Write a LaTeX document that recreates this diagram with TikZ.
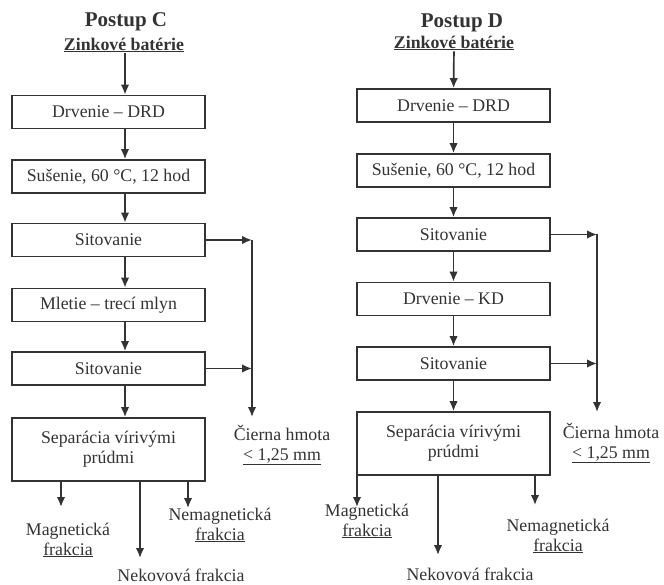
\documentclass[tikz,border=0pt]{standalone}
\usepackage{fontspec}
\setmainfont{Liberation Serif}
\usetikzlibrary{arrows.meta}

\begin{document}
\begin{tikzpicture}[x=1pt,y=-1pt,
    every node/.style={text=black!80, font=\fontsize{17.8}{20}\selectfont},
    stepbox/.style={draw=black!80, line width=1.7pt, minimum width=193pt, minimum height=33pt, inner sep=0pt, align=center},
    flow/.style={draw=black!80, line width=1.7pt, -{Latex[length=10pt,width=8.5pt]}},
    title/.style={font=\fontsize{21}{24}\selectfont\bfseries},
    source/.style={font=\fontsize{17.8}{20}\selectfont\bfseries, inner sep=1pt},
    product/.style={align=center, inner sep=0pt}]
    \useasboundingbox (0,0) rectangle (664,585);

    % Postup C
    \node[title] (titleC) at (126,22) {Postup C};
    \node[source] (zincC) at (124,45) {\underline{Zinkové batérie}};
    \node[stepbox] (crushC) at (108.5,112) {Drvenie -- DRD};
    \node[stepbox] (dryC) at (108.5,176.5) {Sušenie, 60 °C, 12 hod};
    \node[stepbox] (sieveAC) at (108.5,240) {Sitovanie};
    \node[stepbox] (millC) at (108.5,305) {Mletie -- trecí mlyn};
    \node[stepbox] (sieveBC) at (108.5,368.5) {Sitovanie};
    \node[stepbox, minimum height=63pt] (sepC) at (108.5,449.5) {Separácia vírivými\\prúdmi};
    \node[product] (blackC) at (282,445) {Čierna hmota\\\underline{< 1,25 mm}};
    \node[product] (magC) at (68,540) {Magnetická\\\underline{frakcia}};
    \node[product] (nonmetC) at (181,575) {Nekovová frakcia};
    \node[product] (nonmagC) at (220,525) {Nemagnetická\\\underline{frakcia}};

    \coordinate (axisC) at (125,0);
    \coordinate (sideC) at (252,0);
    \coordinate (tipBlackC) at (252,417);
    \coordinate (tipMagC) at (61,507);
    \coordinate (tipNonmetC) at (140,558);
    \coordinate (tipNonmagC) at (188,508);

    \draw[flow] (zincC.south -| axisC) -- (crushC.north -| axisC);
    \draw[flow] (crushC.south -| axisC) -- (dryC.north -| axisC);
    \draw[flow] (dryC.south -| axisC) -- (sieveAC.north -| axisC);
    \draw[flow] (sieveAC.south -| axisC) -- (millC.north -| axisC);
    \draw[flow] (millC.south -| axisC) -- (sieveBC.north -| axisC);
    \draw[flow] (sieveBC.south -| axisC) -- (sepC.north -| axisC);
    \draw[flow] (sieveAC.east) -- (sieveAC.east -| sideC);
    \draw[flow] (sieveBC.east) -- (sieveBC.east -| sideC);
    \draw[flow] (sieveAC.east -| sideC) -- (tipBlackC);
    \draw[flow] (sepC.south -| tipMagC) -- (tipMagC);
    \draw[flow] (sepC.south -| tipNonmetC) -- (tipNonmetC);
    \draw[flow] (sepC.south -| tipNonmagC) -- (tipNonmagC);

    % Postup D
    \node[title] (titleD) at (462,23) {Postup D};
    \node[source] (zincD) at (454,43) {\underline{Zinkové batérie}};
    \node[stepbox] (crushD) at (453.5,105.5) {Drvenie -- DRD};
    \node[stepbox] (dryD) at (453.5,170.5) {Sušenie, 60 °C, 12 hod};
    \node[stepbox] (sieveAD) at (453.5,234.5) {Sitovanie};
    \node[stepbox] (crushKD) at (453.5,299) {Drvenie -- KD};
    \node[stepbox] (sieveBD) at (453.5,363.5) {Sitovanie};
    \node[stepbox, minimum height=63pt] (sepD) at (453.5,443.5) {Separácia vírivými\\prúdmi};
    \node[product] (blackD) at (611,443) {Čierna hmota\\\underline{< 1,25 mm}};
    \node[product] (magD) at (367,521) {Magnetická\\\underline{frakcia}};
    \node[product] (nonmetD) at (470,574) {Nekovová frakcia};
    \node[product] (nonmagD) at (558,536) {Nemagnetická\\\underline{frakcia}};

    \coordinate (sideD) at (597,0);
    \coordinate (tipBlackD) at (597,412);
    \coordinate (tipMagD) at (357,507);
    \coordinate (tipNonmetD) at (438,555);
    \coordinate (tipNonmagD) at (535,505);

    \draw[flow] (zincD) -- (crushD);
    \draw[flow] (crushD) -- (dryD);
    \draw[flow] (dryD) -- (sieveAD);
    \draw[flow] (sieveAD) -- (crushKD);
    \draw[flow] (crushKD) -- (sieveBD);
    \draw[flow] (sieveBD) -- (sepD);
    \draw[flow] (sieveAD.east) -- (sieveAD.east -| sideD);
    \draw[flow] (sieveBD.east) -- (sieveBD.east -| sideD);
    \draw[flow] (sieveAD.east -| sideD) -- (tipBlackD);
    \draw[flow] (sepD.south -| tipMagD) -- (tipMagD);
    \draw[flow] (sepD.south -| tipNonmetD) -- (tipNonmetD);
    \draw[flow] (sepD.south -| tipNonmagD) -- (tipNonmagD);
\end{tikzpicture}
\end{document}
